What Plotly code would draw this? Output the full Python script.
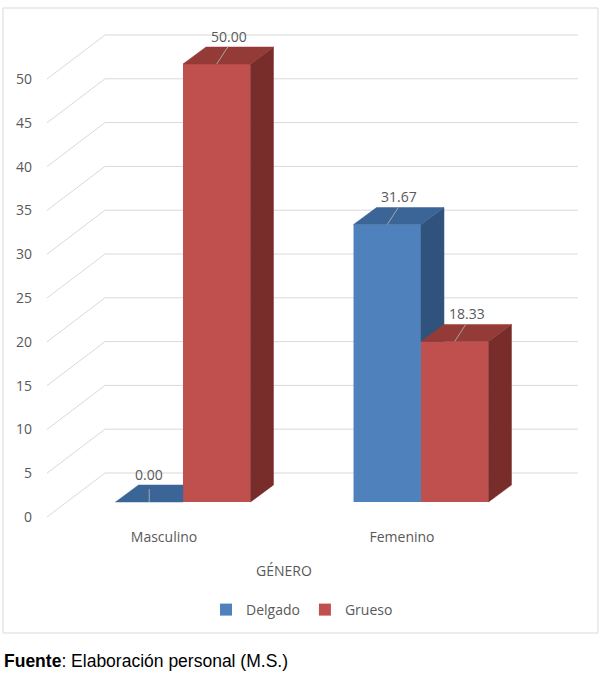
import plotly.graph_objects as go

categories = ["Masculino", "Femenino"]
series_names = ["Delgado", "Grueso"]
delgado = [0.00, 31.67]
grueso = [50.00, 18.33]
y_ticks = [0, 5, 10, 15, 20, 25, 30, 35, 40, 45, 50]

front_colors = {"Delgado": "#4F81BD", "Grueso": "#C0504D"}
top_colors = {"Delgado": "#3B6597", "Grueso": "#943A37"}
side_colors = {"Delgado": "#30537D", "Grueso": "#782D2B"}
txt = "#595959"
grid = "#D9D9D9"
FONT = "Open Sans"
FS = 14

# projection geometry (px -> data units)
PX_X = 238.0   # px per category unit
PX_Y = 8.76    # px per value unit
BAR_DX, BAR_DY = 23 / PX_X, 17 / PX_Y
FRONT_DX, FRONT_DY = -19 / PX_X, -15 / PX_Y
BACK_DY = 29 / PX_Y
WALL_LEFT = (47 - 183) / PX_X
WALL_DEPTH = 58 / PX_X
WALL_RIGHT = (578 - 183) / PX_X

L, R, T, B = 36, 11, 20, 156
W, H = 601, 681
plot_w, plot_h = W - L - R, H - T - B
x0 = -(183 - L) / PX_X
x1 = x0 + plot_w / PX_X
y0 = -((H - B) - 502) / PX_Y
y1 = y0 + plot_h / PX_Y

bargap = 0.433
bw = (1 - bargap) / 2
xc = [0, 1]

fig = go.Figure()
data = {"Delgado": delgado, "Grueso": grueso}
for name in series_names:
    fig.add_trace(go.Bar(x=xc, y=data[name], name=name,
                         marker=dict(color=front_colors[name], line=dict(width=0)),
                         hoverinfo="skip"))

def poly(xs, ys, color):
    fig.add_trace(go.Scatter(x=xs + [xs[0]], y=ys + [ys[0]], fill="toself",
                             fillcolor=color, mode="lines", line=dict(width=0.5, color=color),
                             showlegend=False, hoverinfo="skip"))

# 3D faces
for i, c in enumerate(xc):
    for j, name in enumerate(series_names):
        v = data[name][i]
        xl = c - bw + j * bw
        xr = xl + bw
        other = grueso[i] if name == "Delgado" else None
        # side face
        if other is None:
            poly([xr, xr + BAR_DX, xr + BAR_DX, xr], [0, BAR_DY, v + BAR_DY, v], side_colors[name])
        elif v > other:
            poly([xr, xr + BAR_DX, xr + BAR_DX, xr], [other, other, v + BAR_DY, v], side_colors[name])
        # top face (clipped where the neighbouring bar's front hides it)
        if other is not None and v < other:
            poly([xl, xl + BAR_DX, xr, xr], [v, v + BAR_DY, v + BAR_DY, v], top_colors[name])
        else:
            poly([xl, xl + BAR_DX, xr + BAR_DX, xr], [v, v + BAR_DY, v + BAR_DY, v], top_colors[name])
        # leader line + label
        cx = (xl + xr) / 2
        if v > 0:
            lx, ly = [cx, cx + 11 / PX_X], [v, v + 17 / PX_Y]
            ax = cx + 12 / PX_X
        else:
            lx, ly = [cx, cx], [v, v + 13 / PX_Y]
            ax = cx
        fig.add_trace(go.Scatter(x=lx, y=ly, mode="lines",
                                 line=dict(color="#A6A6A6", width=1), showlegend=False, hoverinfo="skip"))
        fig.add_annotation(x=ax, y=v + 28 / PX_Y, text=f"{v:.2f}", showarrow=False,
                           font=dict(size=FS, color=txt, family=FONT), xanchor="center", yanchor="middle")

# gridlines (walls)
shapes = []
for t in y_ticks:
    shapes.append(dict(type="line", x0=WALL_LEFT, y0=t + FRONT_DY, x1=WALL_LEFT + WALL_DEPTH, y1=t + BACK_DY,
                       line=dict(color=grid, width=1), layer="below"))
    shapes.append(dict(type="line", x0=WALL_LEFT + WALL_DEPTH, y0=t + BACK_DY, x1=WALL_RIGHT, y1=t + BACK_DY,
                       line=dict(color=grid, width=1), layer="below"))
# chart border
shapes.append(dict(type="rect", xref="paper", yref="paper",
                   x0=(3 - L) / plot_w, x1=(598 - L) / plot_w,
                   y0=((H - B) - 633) / plot_h, y1=((H - B) - 8) / plot_h,
                   line=dict(color=grid, width=1), layer="below"))

fig.add_annotation(x=(284 - 183) / PX_X, y=((H - B) - 570) / plot_h, yref="paper", text="GÉNERO",
                   showarrow=False, font=dict(size=FS, color=txt, family=FONT),
                   xanchor="center", yanchor="middle")
fig.add_annotation(x=(2 - L) / plot_w, xref="paper", y=((H - B) - 661) / plot_h, yref="paper",
                   text="<b>Fuente</b>: Elaboración personal (M.S.)", showarrow=False,
                   font=dict(size=17.5, color="#000000", family="Liberation Sans"),
                   xanchor="left", yanchor="middle")

fig.update_layout(
    width=W, height=H, margin=dict(l=L, r=R, t=T, b=B, autoexpand=False),
    paper_bgcolor="white", plot_bgcolor="white",
    barmode="group", bargap=bargap, bargroupgap=0,
    shapes=shapes,
    showlegend=True,
    legend=dict(orientation="h", x=(302 - L) / plot_w, xanchor="center",
                y=((H - B) - 610) / plot_h, yanchor="middle",
                font=dict(size=FS, color=txt, family=FONT), itemwidth=30,
                traceorder="normal"),
    font=dict(family=FONT, color=txt, size=FS),
)
fig.update_xaxes(range=[x0, x1], tickvals=[c + FRONT_DX for c in xc], ticktext=categories,
                 showgrid=False, zeroline=False, showline=False, ticks="", automargin=False,
                 tickfont=dict(size=FS, color=txt), ticklabelstandoff=2)
fig.update_yaxes(range=[y0, y1], tickvals=[t + FRONT_DY for t in y_ticks], ticktext=[str(t) for t in y_ticks],
                 showgrid=False, zeroline=False, showline=False, ticks="", automargin=False,
                 tickfont=dict(size=FS, color=txt), ticklabelstandoff=3)

fig.write_html("out.html")
